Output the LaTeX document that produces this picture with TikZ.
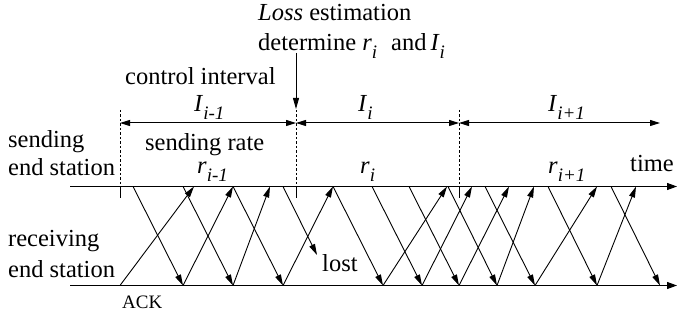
\documentclass[tikz,border=0pt]{standalone}
\usepackage{fontspec}
\setmainfont{Liberation Serif}
\usetikzlibrary{arrows.meta}
\newcommand{\sbx}[1]{\raisebox{-8pt}{\fontsize{19}{19}\selectfont\textit{#1}}}
\begin{document}
\begin{tikzpicture}[x=1pt,y=-1pt,
  axis/.style={line width=1.1pt,-{Triangle[length=10pt,width=7pt]}},
  msg/.style={line width=0.9pt,-{Triangle[length=11pt,width=6pt]}},
  span/.style={line width=1pt,{Triangle[length=10pt,width=6pt]}-{Triangle[length=10pt,width=6pt]}},
  dashv/.style={line width=0.8pt,dash pattern=on 2.5pt off 2pt},
  tick/.style={line width=0.9pt},
  lbl/.style={anchor=base west,inner sep=0pt,font=\fontsize{24.5}{28}\selectfont},
  small/.style={anchor=base west,inner sep=0pt,font=\fontsize{19}{22}\selectfont}]
\useasboundingbox (0,0) rectangle (677,320);
\def\ytop{186.5}
\def\ybot{285.5}
% time lines
\coordinate (sa) at (70,\ytop); \coordinate (sb) at (677,\ytop);
\coordinate (ra) at (70,\ybot); \coordinate (rb) at (677,\ybot);
\draw[axis] (sa) -- (sb);
\draw[axis] (ra) -- (rb);
% interval boundaries
\foreach \x [count=\k] in {120,296,459}{
  \coordinate (bt\k) at (\x,110);
  \coordinate (bm\k) at (\x,\ytop);
  \coordinate (bb\k) at (\x,198);
  \coordinate (bs\k) at (\x,123);
  \draw[dashv] (bt\k) -- (bm\k);
  \draw[tick] (bm\k) -- (bb\k);
}
\coordinate (bs4) at (660,123);
\draw[span] (bs1) -- (bs2);
\draw[span] (bs2) -- (bs3);
\draw[span] (bs3) -- (bs4);
% loss estimation arrow
\coordinate (la) at (296,53);
\coordinate (lb) at (296,109);
\draw[msg] (la) -- (lb);
% data packets (down)
\foreach \a/\b [count=\k] in {133/183,183/233,233/283,333/383,372/422,409/459,448/497,485/535,548/597,611/660}{
  \coordinate (dt\k) at (\a,\ytop);
  \coordinate (db\k) at (\b,\ybot);
  \draw[msg] (dt\k) -- (db\k);
}
% lost packet
\coordinate (lt) at (283,\ytop);
\coordinate (lz) at (317,255);
\draw[msg] (lt) -- (lz);
% acks (up)
\foreach \a/\b [count=\k] in {120/194,183/233,233/270,283/333,383/447,422/472,459/509,497/534,535/597,597/636}{
  \coordinate (ub\k) at (\a,\ybot);
  \coordinate (ut\k) at (\b,\ytop);
  \draw[msg] (ub\k) -- (ut\k);
}
% labels
\node[lbl] (loss) at (258,21) {\textit{Loss} estimation};
\node[lbl] (det) at (258,51) {determine \textit{r}\sbx{i}\hspace{14pt}and\,\textit{I}\sbx{i}};
\node[lbl] (ctrl) at (125,85) {control interval};
\node[lbl] (I1) at (194,112) {\textit{I}\sbx{i-1}};
\node[lbl] (I2) at (358,112) {\textit{I}\sbx{i}};
\node[lbl] (I3) at (548,112) {\textit{I}\sbx{i+1}};
\node[lbl] (srate) at (145,151) {sending rate};
\node[lbl] (r1) at (197,174) {\textit{r}\sbx{i-1}};
\node[lbl] (r2) at (360,174) {\textit{r}\sbx{i}};
\node[lbl] (r3) at (548,174) {\textit{r}\sbx{i+1}};
\node[lbl] (time) at (630,172) {time};
\node[lbl] (send1) at (8,148) {sending};
\node[lbl] (send2) at (8,176) {end station};
\node[lbl] (recv1) at (8,247) {receiving};
\node[lbl] (recv2) at (8,277) {end station};
\node[small] (ack) at (122,308) {ACK};
\node[lbl] (lost) at (322,272) {lost};
\end{tikzpicture}
\end{document}
